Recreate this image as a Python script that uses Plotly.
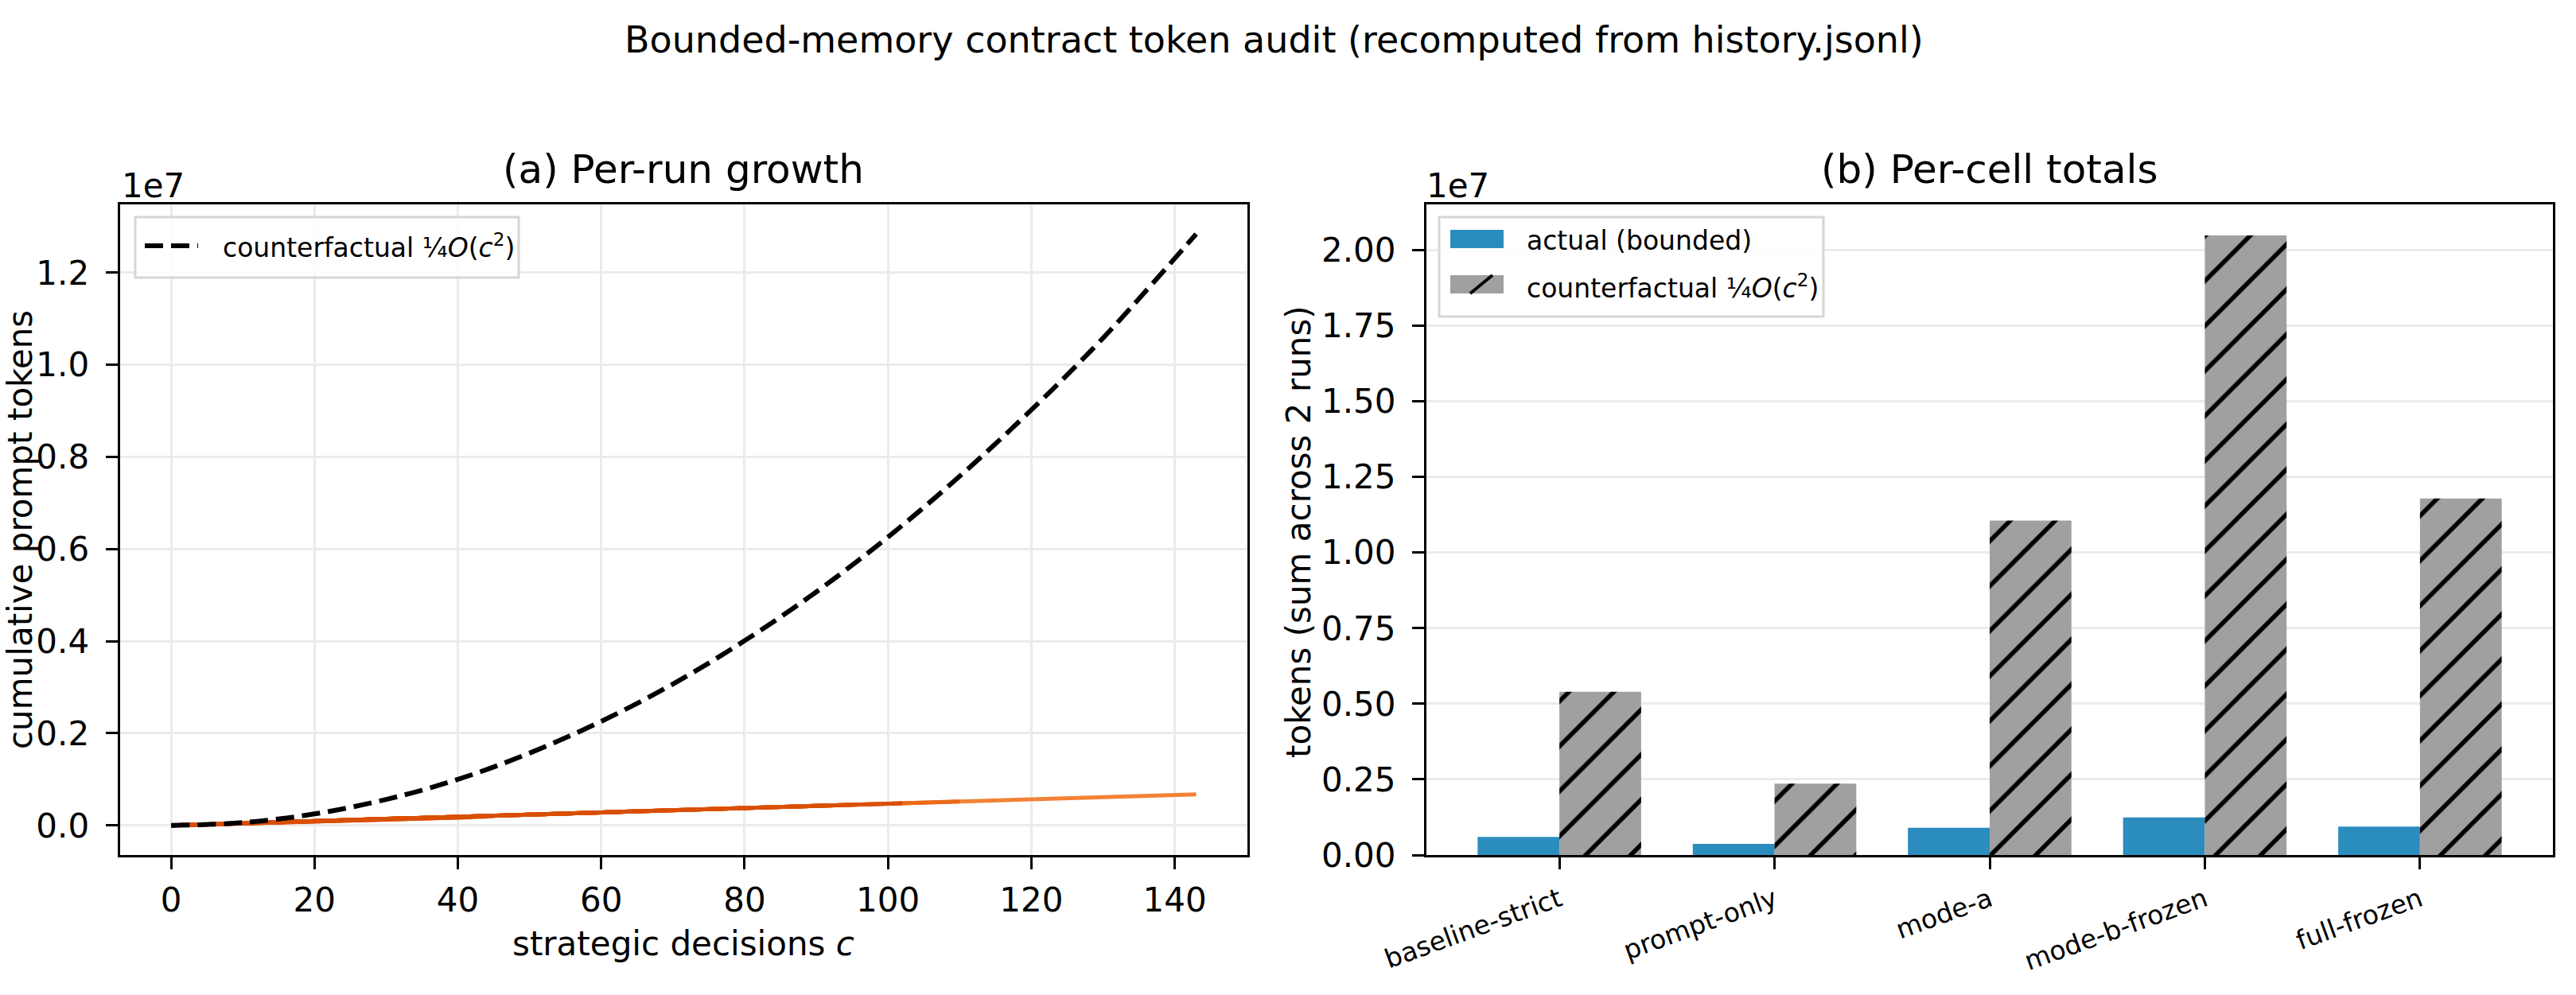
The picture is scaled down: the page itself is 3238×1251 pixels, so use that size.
import plotly.graph_objects as go

W, H = 3238, 1251
FONT = "DejaVu Sans"

# ---------------- data ----------------
# (a) per-run cumulative actual prompt tokens (runs listed in drawing order)
run_decisions = [143, 110, 66, 64, 44, 42, 95, 93, 102, 91]
run_final_tokens = [675000, 520000, 312000, 302000, 190000, 180000, 449000, 439000, 482000, 430000]
run_colors = ["#f38236", "#ea6a1a", "#d94f04", "#d94f04", "#d94f04", "#d94f04",
              "#d94f04", "#d94f04", "#d94f04", "#d94f04"]

# counterfactual quadratic curve for the longest run
cf_c = [0, 10, 20, 30, 40, 50, 60, 70, 80, 90, 100, 110, 120, 130, 143]
cf_tokens = [0, 63000, 250000, 565000, 1000000, 1570000, 2260000, 3070000, 4010000,
             5070000, 6260000, 7580000, 9020000, 10580000, 12840000]

# (b) per-cell totals
cells = ["baseline-strict", "prompt-only", "mode-a", "mode-b-frozen", "full-frozen"]
actual_totals = [600000, 370000, 900000, 1240000, 940000]
cf_totals = [5400000, 2360000, 11060000, 20490000, 11790000]

left_yticks = [0, 2e6, 4e6, 6e6, 8e6, 10e6, 12e6]
left_yticktext = ["0.0", "0.2", "0.4", "0.6", "0.8", "1.0", "1.2"]
left_xticks = [0, 20, 40, 60, 80, 100, 120, 140]
right_yticks = [0, 2.5e6, 5e6, 7.5e6, 10e6, 12.5e6, 15e6, 17.5e6, 20e6]
right_yticktext = ["0.00", "0.25", "0.50", "0.75", "1.00", "1.25", "1.50", "1.75", "2.00"]

# ---------------- helpers ----------------
def px(x):
    return x / W

def py(y):
    return 1 - y / H

fig = go.Figure()

for n, tot, col in zip(run_decisions, run_final_tokens, run_colors):
    fig.add_trace(go.Scatter(x=[0, n], y=[0, tot], mode="lines",
                             line=dict(color=col, width=5), showlegend=False,
                             xaxis="x", yaxis="y", hoverinfo="skip"))

fig.add_trace(go.Scatter(x=cf_c, y=cf_tokens, mode="lines",
                         line=dict(color="black", width=6, dash="23px,10px", shape="spline"),
                         showlegend=False, xaxis="x", yaxis="y"))

fig.add_trace(go.Bar(x=list(range(len(cells))), y=actual_totals, name="actual (bounded)",
                     marker=dict(color="#2b8cbe", line=dict(width=0)),
                     showlegend=False, xaxis="x2", yaxis="y2"))
fig.add_trace(go.Bar(x=list(range(len(cells))), y=cf_totals, name="counterfactual",
                     marker=dict(color="#a0a0a0", line=dict(width=0),
                                 pattern=dict(shape="/", bgcolor="#a0a0a0", fgcolor="black",
                                              size=40, solidity=0.14, fillmode="replace")),
                     showlegend=False, xaxis="x2", yaxis="y2"))

axis_common = dict(showline=True, mirror=True, linecolor="black", linewidth=3.3,
                   ticks="outside", ticklen=15, tickwidth=3.3, tickcolor="black",
                   zeroline=False, gridcolor="#ebebeb", gridwidth=3,
                   automargin=False)
tick42 = dict(family=FONT, size=42, color="black")
tick33 = dict(family=FONT, size=33, color="black")

ydom = [py(1075), py(257)]
fig.update_layout(
    width=W, height=H, autosize=False,
    margin=dict(l=0, r=0, t=0, b=0, autoexpand=False),
    paper_bgcolor="white", plot_bgcolor="white",
    barmode="group", bargap=0.24, bargroupgap=0,
    showlegend=False,
    xaxis=dict(domain=[px(150.7), px(1568)], range=[-7.15, 150.15], tickvals=left_xticks,
               showgrid=True, anchor="y", tickfont=tick42, ticklabelstandoff=2,
               **axis_common),
    yaxis=dict(domain=ydom, range=[-642000, 13482000], tickvals=left_yticks,
               ticktext=left_yticktext, showgrid=True, anchor="x", tickfont=tick42,
               ticklabelstandoff=12, **axis_common),
    xaxis2=dict(domain=[px(1793), px(3209)], range=[-0.618, 4.618],
                tickvals=list(range(len(cells))), ticktext=cells, tickangle=-20,
                showgrid=False, anchor="y2", tickfont=tick33, ticklabelstandoff=6,
                **axis_common),
    yaxis2=dict(domain=ydom, range=[0, 21514000], tickvals=right_yticks,
                ticktext=right_yticktext, showgrid=True, anchor="x2", tickfont=tick42,
                ticklabelstandoff=12, **axis_common),
)

ann = []
def text(x, y, s, size, xanchor="center", yanchor="middle", angle=0):
    ann.append(dict(x=px(x), y=py(y), xref="paper", yref="paper", text=s, showarrow=False,
                    xanchor=xanchor, yanchor=yanchor, textangle=angle,
                    font=dict(family=FONT, size=size, color="black")))

text(1601, 50, "Bounded-memory contract token audit (recomputed from history.jsonl)", 46)
text((150.7 + 1568) / 2, 213, "(a) Per-run growth", 50)
text((1793 + 3209) / 2, 213, "(b) Per-cell totals", 50)
text(151, 233, "1e7", 42, xanchor="left")
text(1791, 233, "1e7", 42, xanchor="left")
text((150.7 + 1568) / 2, 1186, "strategic decisions <i>c</i>", 42)
text(25, 666, "cumulative prompt tokens", 42, angle=-90)
text(1632, 669, "tokens (sum across 2 runs)", 42, angle=-90)

# legend (a)
shapes = []
def rect(x0, y0, x1, y1, fill, line_color=None, lw=0):
    shapes.append(dict(type="rect", xref="paper", yref="paper", x0=px(x0), x1=px(x1),
                       y0=py(y1), y1=py(y0), fillcolor=fill, layer="above",
                       line=dict(color=line_color or fill, width=lw)))

rect(170, 273, 652, 349, "rgba(255,255,255,0.85)", "#d6d6d6", 3)
shapes.append(dict(type="line", xref="paper", yref="paper", x0=px(182), x1=px(249),
                   y0=py(309), y1=py(309), layer="above",
                   line=dict(color="black", width=6, dash="23px,10px")))
text(278, 309, "counterfactual ¼<i>O</i>(<i>c</i><sup>2</sup>)", 33, xanchor="left")

# legend (b)
rect(1809, 273, 2292, 398, "rgba(255,255,255,0.85)", "#d6d6d6", 3)
rect(1823, 289, 1890, 312, "#2b8cbe")
rect(1823, 346, 1890, 369, "#a0a0a0")
shapes.append(dict(type="line", xref="paper", yref="paper", x0=px(1848), x1=px(1876),
                   y0=py(369), y1=py(346), layer="above", line=dict(color="black", width=4)))
text(1917, 302, "actual (bounded)", 33, xanchor="left")
text(1917, 360, "counterfactual ¼<i>O</i>(<i>c</i><sup>2</sup>)", 33, xanchor="left")

fig.update_layout(annotations=ann, shapes=shapes)
fig.write_html("out.html")
